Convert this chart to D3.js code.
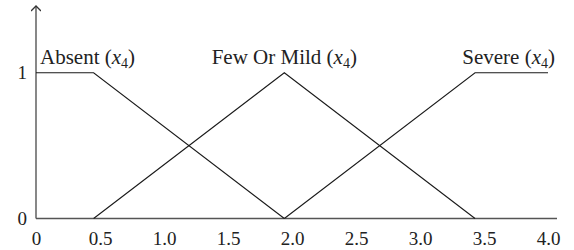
<!DOCTYPE html>
<meta charset="utf-8" />
<style>
  body { margin: 0; background: #fff; }
  svg text { font-family: "Liberation Serif", "DejaVu Serif", serif; font-size: 21px; fill: #222; }
  .mf { fill: none; stroke: #1a1a1a; stroke-width: 1.1px; }
  .ax { stroke: #555; stroke-width: 1.4px; fill: none; }
</style>
<body>
<script src="https://d3js.org/d3.v7.min.js"></script>
<script>
  // membership functions, x in [0,4]
  var absentX = [0, 0.45, 1.94];
  var absentY = [1, 1, 0];
  var mildX = [0.45, 1.94, 3.43];
  var mildY = [0, 1, 0];
  var severeX = [1.94, 3.43, 4.0];
  var severeY = [0, 1, 1];
  var xTicks = [0, 0.5, 1.0, 1.5, 2.0, 2.5, 3.0, 3.5, 4.0];
  var yTicks = [0, 1];
  var names = ["Absent", "Few Or Mild", "Severe"];

  var width = 574, height = 250;
  var x = d3.scaleLinear().domain([0, 4]).range([36, 548]);
  var y = d3.scaleLinear().domain([0, 1]).range([218.5, 72.7]);

  var svg = d3.select("body").append("svg")
    .attr("width", width).attr("height", height);

  svg.append("defs").append("marker")
    .attr("id", "arr").attr("viewBox", "0 0 10 10")
    .attr("refX", 5).attr("refY", 1)
    .attr("markerWidth", 10).attr("markerHeight", 10)
    .attr("markerUnits", "userSpaceOnUse")
    .attr("orient", "0")
    .append("path").attr("d", "M0,6 L5,1 L10,6")
    .attr("fill", "none").attr("stroke", "#333").attr("stroke-width", 1.4);

  // axes lines
  svg.append("line").attr("class", "ax")
    .attr("x1", x(0)).attr("x2", 557).attr("y1", y(0)).attr("y2", y(0));
  svg.append("line").attr("class", "ax")
    .attr("x1", x(0)).attr("x2", x(0)).attr("y1", y(0)).attr("y2", 6)
    .attr("marker-end", "url(#arr)");

  var xAxis = d3.axisBottom(x).tickValues(xTicks).tickSize(0).tickPadding(13)
    .tickFormat(function (d) { return d === 0 ? "0" : d3.format(".1f")(d); });
  var gx = svg.append("g").attr("transform", "translate(0," + y(0) + ")").call(xAxis);
  gx.select(".domain").remove();

  var yAxis = d3.axisLeft(y).tickValues(yTicks).tickSize(0).tickPadding(9)
    .tickFormat(d3.format("d"));
  var gy = svg.append("g").attr("transform", "translate(" + x(0) + ",0)").call(yAxis);
  gy.select(".domain").remove();

  svg.selectAll("g.tick text")
    .attr("font-family", null).attr("font-size", null)
    .style("font-family", "'Liberation Serif', 'DejaVu Serif', serif")
    .style("font-size", "19px").style("fill", "#222");
  gx.attr("font-size", null).attr("font-family", null);
  gy.attr("font-size", null).attr("font-family", null);

  var line = d3.line().x(function (d) { return x(d[0]); }).y(function (d) { return y(d[1]); });
  var series = [
    d3.zip(absentX, absentY),
    d3.zip(mildX, mildY),
    d3.zip(severeX, severeY)
  ];
  svg.selectAll(".mf").data(series).enter().append("path")
    .attr("class", "mf").attr("d", line);

  // labels
  var labelPos = [
    { x: x(0) + 4, anchor: "start" },
    { x: x(1.94), anchor: "middle" },
    { x: x(4.0) + 7, anchor: "end" }
  ];
  names.forEach(function (n, i) {
    var t = svg.append("text")
      .attr("x", labelPos[i].x).attr("y", 64)
      .attr("text-anchor", labelPos[i].anchor);
    t.append("tspan").text(n + " (");
    t.append("tspan").style("font-style", "italic").text("x");
    t.append("tspan").attr("dy", 4).style("font-size", "14px").text("4");
    t.append("tspan").attr("dy", -4).text(")");
  });
</script>
</body>
